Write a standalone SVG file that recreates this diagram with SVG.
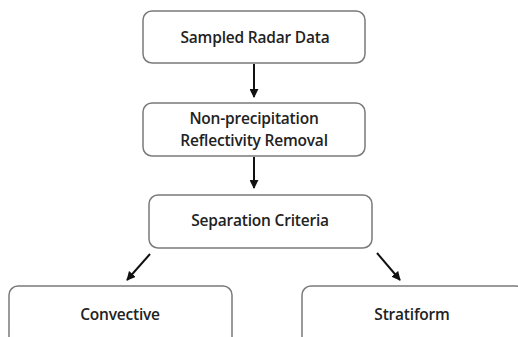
<svg xmlns="http://www.w3.org/2000/svg" width="518" height="337" viewBox="0 0 518 337">
<defs>
<style>
.box{fill:#fff;stroke:#7a7a7a;stroke-width:1.5}
.lbl{font-family:"Open Sans","Liberation Sans",sans-serif;font-weight:600;font-size:15.5px;fill:#222;text-anchor:middle;letter-spacing:-0.2px}
.con{stroke:#111;stroke-width:2;fill:none;marker-end:url(#ah)}
</style>
<marker id="ah" viewBox="0 0 10 10" refX="9" refY="5" markerWidth="4.5" markerHeight="4.5" orient="auto" markerUnits="strokeWidth">
<path d="M0,0 L10,5 L0,10 z" fill="#111"/>
</marker>
</defs>
<rect width="518" height="337" fill="#fff"/>
<g id="connectors">
<line class="con" x1="254" y1="64" x2="254" y2="97"/>
<line class="con" x1="254" y1="157" x2="254" y2="188"/>
<line class="con" x1="150" y1="254" x2="127" y2="280"/>
<line class="con" x1="377" y1="253" x2="400" y2="280"/>
</g>
<g id="n1">
<rect class="box" x="143" y="11" width="222" height="52" rx="9"/>
<text class="lbl" x="255" y="43">Sampled Radar Data</text>
</g>
<g id="n2">
<rect class="box" x="143" y="103" width="222" height="53" rx="9"/>
<text class="lbl" x="254" y="124">Non-precipitation</text>
<text class="lbl" x="254" y="146">Reflectivity Removal</text>
</g>
<g id="n3">
<rect class="box" x="149" y="195" width="223" height="53" rx="9"/>
<text class="lbl" x="260" y="226">Separation Criteria</text>
</g>
<g id="n4">
<rect class="box" x="9" y="286" width="223" height="60" rx="9"/>
<text class="lbl" x="120" y="320">Convective</text>
</g>
<g id="n5">
<rect class="box" x="302" y="286" width="223" height="60" rx="9"/>
<text class="lbl" x="412" y="320">Stratiform</text>
</g>
</svg>
